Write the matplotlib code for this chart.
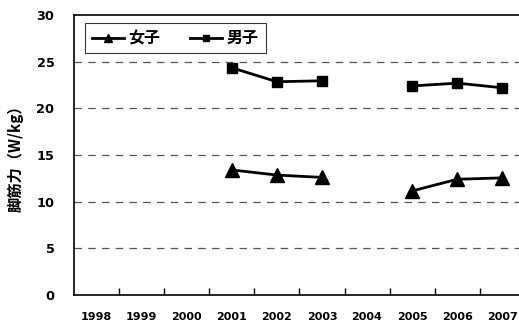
import numpy as np
import matplotlib
matplotlib.use("Agg")
import matplotlib.pyplot as plt
from matplotlib.ticker import FixedLocator

plt.rcParams['font.family'] = ['DejaVu Sans', 'Noto Sans CJK JP']

years = ["1998", "1999", "2000", "2001", "2002", "2003", "2004", "2005", "2006", "2007"]
girls = [np.nan, np.nan, np.nan, 13.4, 12.85, 12.6, np.nan, 11.15, 12.4, 12.55]
boys = [np.nan, np.nan, np.nan, 24.35, 22.85, 22.95, np.nan, 22.4, 22.7, 22.2]
yticks = [0, 5, 10, 15, 20, 25, 30]

fig = plt.figure(figsize=(5.19, 3.24), dpi=100)
ax = fig.add_axes([73.9 / 519, 29 / 324, 451 / 519, 280 / 324])

x = np.arange(len(years))
ax.plot(x, girls, color='black', lw=2, marker='^', ms=10.5, label='女子')
ax.plot(x, boys, color='black', lw=2, marker='s', ms=7.8, label='男子')

ax.set_xlim(-0.5, len(years) - 0.5)
ax.set_ylim(0, 30)
ax.set_yticks(yticks)
ax.set_yticklabels([str(v) for v in yticks], fontweight='bold', fontsize=9.3)
ax.set_xticks(x)
ax.set_xticklabels(years, fontweight='bold', fontsize=8)
ax.xaxis.set_minor_locator(FixedLocator(np.arange(0.5, len(years) - 1, 1.0)))
ax.tick_params(axis='x', which='major', length=0, pad=12)
ax.tick_params(axis='x', which='minor', length=5, direction='in', color='black', width=1)
ax.tick_params(axis='y', length=0, pad=14)

for v in [5, 10, 15, 20, 25]:
    ax.axhline(v, color='#555555', lw=0.9, ls=(0, (6, 5)), zorder=0)

for s in ax.spines.values():
    s.set_linewidth(1.2)
    s.set_color('black')

ax.set_ylabel('脚筋力（W/kg）', fontweight='bold', fontsize=11,
              family=['Noto Sans CJK JP', 'DejaVu Sans'], labelpad=9)

leg = ax.legend(loc='upper left', ncol=2, frameon=True, fancybox=False,
                edgecolor='black', bbox_to_anchor=(0.0244, 0.971), borderaxespad=0,
                prop={'family': ['Noto Sans CJK JP', 'DejaVu Sans'], 'weight': 'bold', 'size': 11.5},
                handlelength=2.0, columnspacing=1.9, borderpad=0.45, handletextpad=0.25,
                markerscale=0.6)
leg.get_frame().set_linewidth(0.8)

fig.savefig('out.png', dpi=100)
